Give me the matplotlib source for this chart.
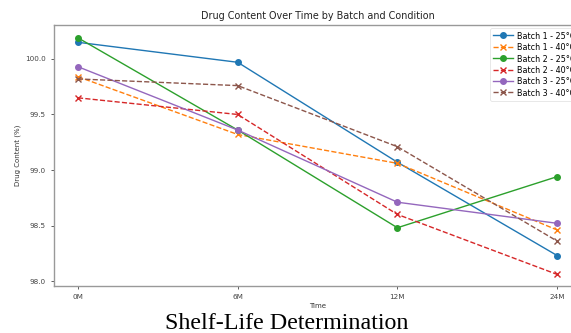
import matplotlib
matplotlib.use("Agg")
import matplotlib.pyplot as plt

time_labels = ["0M", "6M", "12M", "24M"]
series_labels = [
    "Batch 1 - 25°C/60%RH",
    "Batch 1 - 40°C/75%RH",
    "Batch 2 - 25°C/60%RH",
    "Batch 2 - 40°C/75%RH",
    "Batch 3 - 25°C/60%RH",
    "Batch 3 - 40°C/75%RH",
]
b1_25 = [100.15, 99.97, 99.07, 98.23]
b1_40 = [99.84, 99.32, 99.06, 98.46]
b2_25 = [100.19, 99.36, 98.48, 98.94]
b2_40 = [99.65, 99.50, 98.60, 98.06]
b3_25 = [99.93, 99.36, 98.71, 98.52]
b3_40 = [99.82, 99.76, 99.21, 98.36]
series_values = [b1_25, b1_40, b2_25, b2_40, b3_25, b3_40]

colors = ["#1f77b4", "#ff7f0e", "#2ca02c", "#d62728", "#9467bd", "#8c564b"]

fig = plt.figure(figsize=(5.71, 3.33), dpi=100)
ax = fig.add_axes([0.0946, 0.141, 0.923, 0.784])
x = list(range(len(time_labels)))
for i, (lab, vals) in enumerate(zip(series_labels, series_values)):
    if i % 2 == 0:
        ax.plot(x, vals, marker="o", linestyle="-", color=colors[i], lw=1.0,
                markersize=4, label=lab)
    else:
        ax.plot(x, vals, marker="x", linestyle="--", color=colors[i], lw=1.0,
                markersize=4, label=lab)

ax.set_xticks(x)
ax.set_xticklabels(time_labels)
ax.set_yticks([98.0, 98.5, 99.0, 99.5, 100.0])
ax.set_ylim(97.955, 100.306)
ax.tick_params(labelsize=5.2, length=2.5, width=0.6, colors="#444444")
for s in ax.spines.values():
    s.set_color("#999999")
    s.set_linewidth(1.0)
ax.set_xlabel("Time", fontsize=5, labelpad=2, color="#333333")
ax.set_ylabel("Drug Content (%)", fontsize=5, labelpad=3, color="#333333")
ax.set_title("Drug Content Over Time by Batch and Condition", fontsize=6.9, pad=4, color="#222222")
leg = ax.legend(loc="upper left", bbox_to_anchor=(490 / 571, 1 - 28 / 333),
                bbox_transform=fig.transFigure, borderaxespad=0,
                fontsize=5.8, frameon=True, handlelength=2.5,
                borderpad=0.4, labelspacing=0.3, handletextpad=0.5)
leg.get_frame().set_edgecolor("#dddddd")
leg.get_frame().set_linewidth(0.6)

fig.text(0.503, 0.012, "Shelf-Life Determination", fontsize=17.3,
         family="Liberation Serif", ha="center", va="baseline", color="black")

fig.savefig("out.png", dpi=100)
